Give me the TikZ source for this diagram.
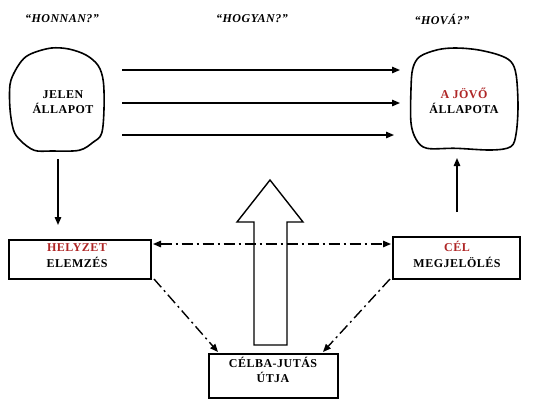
\documentclass[tikz,border=0pt]{standalone}
\usepackage{fontspec}
\setmainfont{Liberation Serif}[LetterSpace=4]
\usetikzlibrary{arrows.meta}
\definecolor{redtxt}{RGB}{175,38,38}
\tikzset{
  lbl/.style={font=\bfseries\fontsize{12}{15.5}\selectfont, align=center, inner sep=0pt},
  hdr/.style={font=\bfseries\itshape\fontsize{12}{14}\selectfont, inner sep=0pt},
  boxnode/.style={draw, line width=1.5pt, inner sep=0pt},
  blobline/.style={draw, line width=1.6pt},
  arr/.style={line width=1.4pt, -{Triangle[length=8pt,width=6.5pt]}},
  ddline/.style={line width=1.4pt, dash pattern=on 11pt off 4pt on 2pt off 4pt},
}
\begin{document}
\begin{tikzpicture}[x=1pt,y=-1pt]
\useasboundingbox (0,0) rectangle (536,408);
\fill[white] (0,0) rectangle (536,408);

% headers
\node[hdr] (h1) at (62,19) {“HONNAN?”};
\node[hdr] (h2) at (252,19) {“HOGYAN?”};
\node[hdr] (h3) at (442,19) {“HOVÁ?”};

% blobs
\draw[blobline] plot[smooth cycle, tension=0.55] coordinates {
 (23.8,58.5) (34.2,52.5) (51.5,48) (68.8,49) (86,55) (98.1,65.5) (103.3,81.2)
 (104,109) (101.6,133.5) (93,142.3) (79.1,150.3) (51.5,151) (34.2,150.3)
 (20.4,140.5) (13.5,130) (10,109) (10,84.7) (15.2,70.7)};
\draw[blobline] plot[smooth cycle, tension=0.55] coordinates {
 (419.9,56.5) (437.8,49.7) (455.6,48) (477,49.7) (498.4,54.8) (510.9,61.6)
 (516.2,75.2) (518,105.8) (516.2,133) (510.9,146.6) (491.3,150) (455.6,148.3)
 (427,148.3) (416.4,139.8) (411,122.8) (411,88.8) (412.8,68.4)};

\node[lbl] (jelen) at (63,102) {JELEN\\ÁLLAPOT};
\node[lbl] (jovo) at (464,101) {\textcolor{redtxt}{A JÖVŐ}\\ÁLLAPOTA};

% boxes
\node[boxnode, minimum width=142pt, minimum height=39pt] (helyzetbox) at (80,259.5) {};
\node[boxnode, minimum width=127pt, minimum height=42pt] (celbox) at (456.5,258) {};
\node[boxnode, minimum width=129pt, minimum height=44pt] (utbox) at (273.5,376) {};

\node[lbl] (helyzet) at (77,255.5) {\textcolor{redtxt}{HELYZET}\\ELEMZÉS};
\node[lbl] (cel) at (457,254.5) {\textcolor{redtxt}{CÉL}\\MEGJELÖLÉS};
\node[lbl] (ut) at (273,370) {CÉLBA-JUTÁS\\ÚTJA};

% big hollow arrow
\draw[line width=1.4pt, fill=white] (254,345) -- (254,222) -- (237,222) -- (270,180)
  -- (303,222) -- (287,222) -- (287,345) -- cycle;

% coordinates for connectors
\coordinate (a1s) at (122,70);  \coordinate (a1e) at (400,70);
\coordinate (a2s) at (122,103); \coordinate (a2e) at (400,103);
\coordinate (a3s) at (122,135); \coordinate (a3e) at (394,135);
\coordinate (dns) at (58,159);  \coordinate (dne) at (58,225);
\coordinate (ups) at (457,212); \coordinate (upe) at (457,158);
\coordinate (hl) at (153,244);  \coordinate (hr) at (391,244);
\coordinate (dls) at (154,279); \coordinate (dle) at (218,352);
\coordinate (drs) at (390,279); \coordinate (dre) at (323,352);

\draw[arr] (a1s) -- (a1e);
\draw[arr] (a2s) -- (a2e);
\draw[arr] (a3s) -- (a3e);
\draw[arr] (dns) -- (dne);
\draw[arr] (ups) -- (upe);

\draw[ddline, {Triangle[length=8pt,width=6.5pt]}-{Triangle[length=8pt,width=6.5pt]}] (hl) -- (hr);
\draw[ddline, -{Triangle[length=8pt,width=6.5pt]}] (dls) -- (dle);
\draw[ddline, -{Triangle[length=8pt,width=6.5pt]}] (drs) -- (dre);
\end{tikzpicture}
\end{document}
